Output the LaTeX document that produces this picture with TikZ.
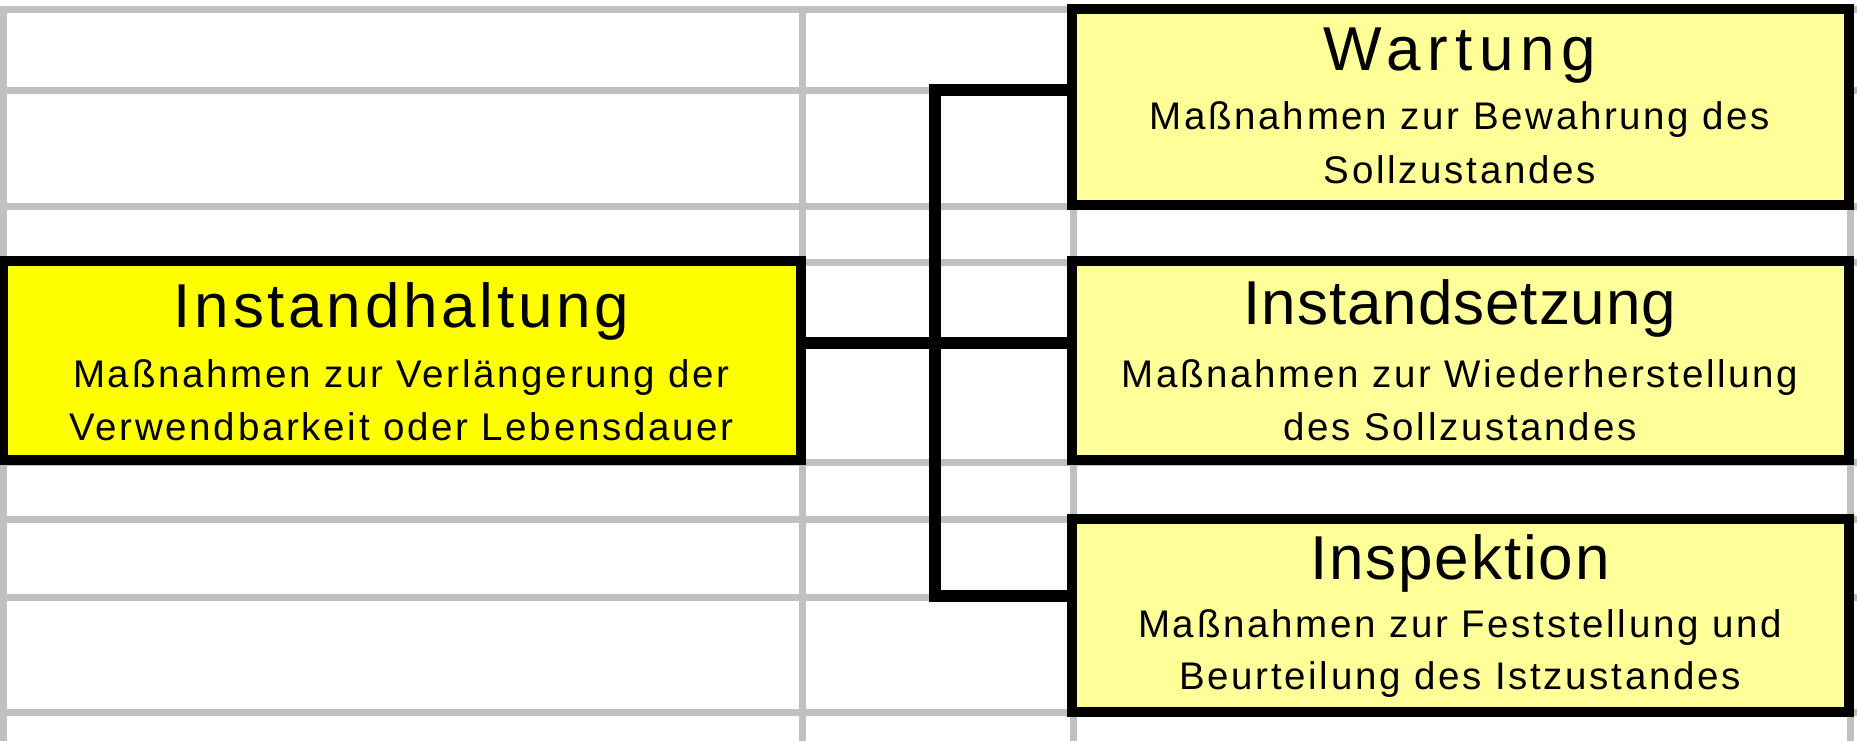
\documentclass[tikz,border=0pt]{standalone}
\usepackage{fontspec}
\setmainfont{Liberation Sans}
\newfontfamily\titlefont[LetterSpace=3]{Liberation Sans}
\newfontfamily\titlefontwide[LetterSpace=6]{Liberation Sans}
\newfontfamily\titlefontwider[LetterSpace=11]{Liberation Sans}
\newfontfamily\titlefontnarrow[LetterSpace=1.5]{Liberation Sans}
\newfontfamily\subfont[LetterSpace=7]{Liberation Sans}
\usetikzlibrary{calc}
\definecolor{gridgray}{HTML}{C0C0C0}
\definecolor{hilite}{HTML}{FFFF00}
\definecolor{pale}{HTML}{FFFF99}
\begin{document}
\begin{tikzpicture}[x=1pt,y=-1pt,
  gridline/.style={draw=gridgray,line width=7pt},
  boxbase/.style={draw=black,line width=10pt,rectangle,inner sep=0pt,outer sep=0pt},
  mainbox/.style={boxbase,fill=hilite},
  subbox/.style={boxbase,fill=pale},
  conn/.style={draw=black,line width=12pt,line join=miter},
  titletext/.style={anchor=base,inner sep=0pt,font=\titlefont\fontsize{62}{70}\selectfont},
  subtext/.style={anchor=base,inner sep=0pt,font=\subfont\fontsize{38.5}{53}\selectfont}]
\useasboundingbox (0,0) rectangle (1857,741);
% grid
\foreach \yy in {9.5,90.5,206,262,462,519,597,712}
  \draw[gridline] (0,\yy) -- (1857,\yy);
\foreach \xx in {3.3,802,1073.5,1850}
  \draw[gridline] (\xx,6) -- (\xx,741);
% boxes
\node[mainbox,minimum width=798pt,minimum height=199pt] (halt) at (401.5,360.5) {};
\node[subbox,minimum width=777pt,minimum height=195pt] (wart) at (1460,107) {};
\node[subbox,minimum width=777pt,minimum height=199.5pt] (setz) at (1460,360.25) {};
\node[subbox,minimum width=777pt,minimum height=192.5pt] (insp) at (1460,615.25) {};
% connectors
\coordinate (jt) at (935,90.5);
\coordinate (jb) at (935,595.5);
\coordinate (jm) at (935,343);
\draw[conn] (wart.west |- jt) -- (jt) -- (jb) -- (insp.west |- jb);
\draw[conn] (halt.east |- jm) -- (setz.west |- jm);
% redraw boxes' borders on top
\draw[boxbase] (halt.north west) rectangle (halt.south east);
\draw[boxbase] (wart.north west) rectangle (wart.south east);
\draw[boxbase] (setz.north west) rectangle (setz.south east);
\draw[boxbase] (insp.north west) rectangle (insp.south east);
% texts
\node[titletext,font=\titlefontwide\fontsize{62}{70}\selectfont] (halt-t) at (401.5,327) {Instandhaltung};
\node[subtext] (halt-a) at (401.5,387) {Maßnahmen zur Verlängerung der};
\node[subtext] (halt-b) at (401.5,440) {Verwendbarkeit oder Lebensdauer};
\node[titletext,font=\titlefontwider\fontsize{62}{70}\selectfont] (wart-t) at (1460,71) {Wartung};
\node[subtext] (wart-a) at (1460,130) {Maßnahmen zur Bewahrung des};
\node[subtext] (wart-b) at (1460,183) {Sollzustandes};
\node[titletext,font=\titlefontnarrow\fontsize{62}{70}\selectfont] (setz-t) at (1460,324) {Instandsetzung};
\node[subtext] (setz-a) at (1460,387) {Maßnahmen zur Wiederherstellung};
\node[subtext] (setz-b) at (1460,440) {des Sollzustandes};
\node[titletext] (insp-t) at (1460,579) {Inspektion};
\node[subtext] (insp-a) at (1460,637) {Maßnahmen zur Feststellung und};
\node[subtext] (insp-b) at (1460,689) {Beurteilung des Istzustandes};
\end{tikzpicture}
\end{document}
